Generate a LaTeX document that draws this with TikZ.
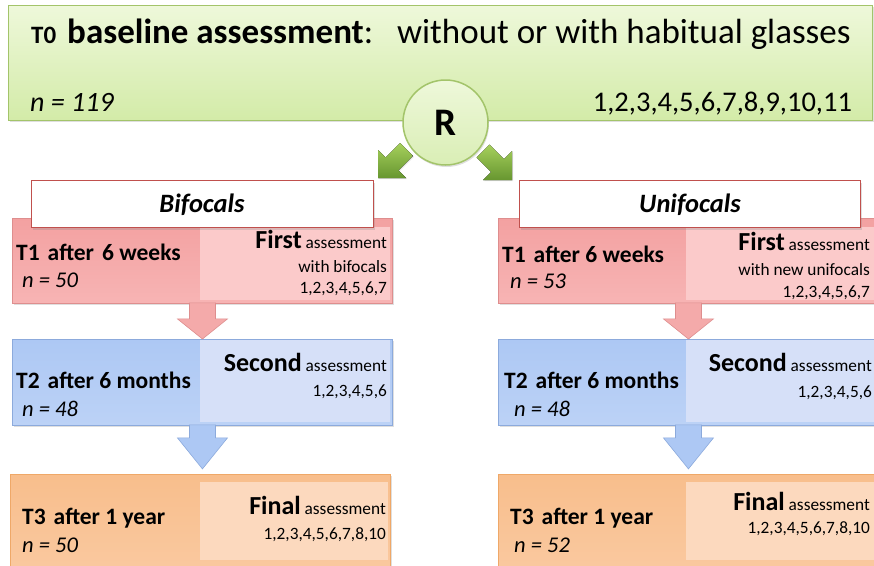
\documentclass[tikz,border=0pt]{standalone}
\usepackage{fontspec}
\setmainfont{Carlito}
\usetikzlibrary{calc,shadows}

\definecolor{grnfillA}{HTML}{EEF8DA}
\definecolor{grnfillB}{HTML}{D3EBA8}
\definecolor{grnline}{HTML}{A3C46A}
\definecolor{grnarrA}{HTML}{A6D05C}
\definecolor{grnarrB}{HTML}{679630}
\definecolor{redA}{HTML}{F3A1A1}
\definecolor{redB}{HTML}{F7B4B4}
\definecolor{redlight}{HTML}{FBCACA}
\definecolor{redline}{HTML}{DE8E8E}
\definecolor{hdrline}{HTML}{C0504D}
\definecolor{bluA}{HTML}{ADC8F4}
\definecolor{bluB}{HTML}{BCD2F6}
\definecolor{blulight}{HTML}{D6E0F8}
\definecolor{bluline}{HTML}{8CAADC}
\definecolor{orgA}{HTML}{F8BE8C}
\definecolor{orgB}{HTML}{FAC9A0}
\definecolor{orglight}{HTML}{FCD9BE}
\definecolor{orgline}{HTML}{EFA868}

\newcommand{\bigword}[1]{{\fontsize{26}{27}\selectfont\bfseries #1}}

\begin{document}
\begin{tikzpicture}[x=1pt,y=-1pt,
  box/.style={draw,line width=0.9pt,inner sep=0pt,anchor=north west,
    drop shadow={shadow xshift=1.5pt,shadow yshift=-2pt,opacity=0.25}},
  redbox/.style={box,draw=redline,top color=redA,bottom color=redB},
  blubox/.style={box,draw=bluline,top color=bluA,bottom color=bluB},
  orgbox/.style={box,draw=orgline,top color=orgA,bottom color=orgB},
  sub/.style={inner sep=0pt,anchor=north west,draw=none},
  hdr/.style={box,draw=hdrline,fill=white,line width=1pt},
  stime/.style={font=\fontsize{23.5}{25}\selectfont\bfseries,anchor=base west,inner sep=0pt},
  scount/.style={font=\fontsize{22.5}{24}\selectfont\itshape,anchor=base west,inner sep=0pt},
  sright/.style={anchor=base east,inner sep=0pt,font=\fontsize{17.3}{19}\selectfont},
  redarrow/.style={fill=redA!90!white,draw=redline,line width=0.6pt},
  bluarrow/.style={fill=bluA,draw=bluline,line width=0.6pt},
  grnarrow/.style={top color=grnarrA,bottom color=grnarrB,draw=none,
    drop shadow={shadow xshift=1pt,shadow yshift=-1pt,opacity=0.2}}
]
\useasboundingbox (0,0) rectangle (874,565);
\clip (0,0) rectangle (874,565);

% baseline box
\node[box,draw=grnline,top color=grnfillA,bottom color=grnfillB,
  minimum width=864,minimum height=115] (t0) at (8,5) {};
\node[anchor=base west,inner sep=0pt,font=\fontsize{35}{37}\selectfont] (t0title) at (31,43)
  {{\fontsize{25}{26}\selectfont\bfseries T0}\hspace{11pt}\textbf{baseline assessment}:\hspace{24pt}without or with habitual glasses};
\node[anchor=base west,inner sep=0pt,font=\fontsize{28}{30}\selectfont\itshape] (t0n) at (30,111) {n = 119};
\node[anchor=base east,inner sep=0pt,font=\fontsize{28.5}{30}\selectfont] (t0v) at (852,111) {1,2,3,4,5,6,7,8,9,10,11};

% randomisation arrows
\fill[grnarrow] (378,178) -- (378,150) -- (385.6,157.6) -- (400.1,143.1) -- (412.9,155.9) -- (398.4,170.4) -- (406,178) -- cycle;
\fill[grnarrow] (512,180) -- (512,151) -- (503.9,159.1) -- (489.4,144.6) -- (476.6,157.4) -- (491.1,171.9) -- (483,180) -- cycle;

% R circle
\node[circle,draw=grnline,line width=1.5pt,inner sep=0pt,minimum size=85,
  top color=grnfillA,bottom color=grnfillB!85!white,
  drop shadow={shadow xshift=1pt,shadow yshift=-2pt,opacity=0.25}] (r) at (445.5,122.5) {};
\node[font=\fontsize{39}{40}\selectfont\bfseries,anchor=base,inner sep=0pt] (rtxt) at (445.5,135) {R};

% ---------- column: bifocals ----------
\node[redbox,minimum width=380,minimum height=85] (t1L) at (12,218) {};
\node[sub,fill=redlight,minimum width=190,minimum height=73] (t1Ls) at (200,227) {};
\node[hdr,minimum width=342,minimum height=47] (hL) at (31,180) {};
\node[font=\fontsize{26.5}{28}\selectfont\bfseries\itshape,anchor=base,inner sep=0pt] (hLt) at (202,212) {Bifocals};
\node[stime] (t1La) at (16,260) {T1\hspace{8pt}after\hspace{8pt}6 weeks};
\node[scount] (t1Lb) at (22,287) {n = 50};
\node[sright] (t1Lc) at (387,248) {\bigword{First} assessment};
\node[sright] (t1Ld) at (387,272) {with bifocals};
\node[sright] (t1Le) at (387,293) {1,2,3,4,5,6,7};

\node[blubox,minimum width=380,minimum height=86] (t2L) at (12,339) {};
\node[sub,fill=blulight,minimum width=190,minimum height=82] (t2Ls) at (200,340) {};
\node[stime] (t2La) at (16,388) {T2\hspace{8pt}after 6 months};
\node[scount] (t2Lb) at (22,416) {n = 48};
\node[sright] (t2Lc) at (387,371) {\bigword{Second} assessment};
\node[sright] (t2Ld) at (387,396) {1,2,3,4,5,6};

\node[orgbox,minimum width=380,minimum height=100] (t3L) at (10,474) {};
\node[sub,fill=orglight,minimum width=188,minimum height=78] (t3Ls) at (200,482) {};
\node[stime] (t3La) at (22,524) {T3\hspace{8pt}after 1 year};
\node[scount] (t3Lb) at (22,552) {n = 50};
\node[sright] (t3Lc) at (386,514) {\bigword{Final} assessment};
\node[sright] (t3Ld) at (386,539) {1,2,3,4,5,6,7,8,10};

\draw[redarrow] ($(t1L.south)+(-13,-1)$) -- ($(t1L.south)+(13,-1)$) -- ($(t1L.south)+(13,15)$)
  -- ($(t1L.south)+(25,15)$) -- (t2L.north) -- ($(t1L.south)+(-25,15)$) -- ($(t1L.south)+(-13,15)$) -- cycle;
\draw[bluarrow] ($(t2L.south)+(-13,-1)$) -- ($(t2L.south)+(13,-1)$) -- ($(t2L.south)+(13,12)$)
  -- ($(t2L.south)+(25,12)$) -- ($(t2L.south)+(0,43)$) -- ($(t2L.south)+(-25,12)$) -- ($(t2L.south)+(-13,12)$) -- cycle;

% ---------- column: unifocals ----------
\node[redbox,minimum width=380,minimum height=85] (t1R) at (498,218) {};
\node[sub,fill=redlight,minimum width=190,minimum height=73] (t1Rs) at (686,227) {};
\node[hdr,minimum width=341,minimum height=47] (hR) at (519,180) {};
\node[font=\fontsize{26.5}{28}\selectfont\bfseries\itshape,anchor=base,inner sep=0pt] (hRt) at (690,212) {Unifocals};
\node[stime] (t1Ra) at (502,262) {T1\hspace{8pt}after 6 weeks};
\node[scount] (t1Rb) at (510,288) {n = 53};
\node[sright] (t1Rc) at (870,250) {\bigword{First} assessment};
\node[sright] (t1Rd) at (870,275) {with new unifocals};
\node[sright] (t1Re) at (870,297) {1,2,3,4,5,6,7};

\node[blubox,minimum width=380,minimum height=86] (t2R) at (498,339) {};
\node[sub,fill=blulight,minimum width=190,minimum height=82] (t2Rs) at (686,340) {};
\node[stime] (t2Ra) at (504,388) {T2\hspace{8pt}after 6 months};
\node[scount] (t2Rb) at (514,416) {n = 48};
\node[sright] (t2Rc) at (872,371) {\bigword{Second} assessment};
\node[sright] (t2Rd) at (872,397) {1,2,3,4,5,6};

\node[orgbox,minimum width=380,minimum height=100] (t3R) at (498,474) {};
\node[sub,fill=orglight,minimum width=190,minimum height=78] (t3Rs) at (686,482) {};
\node[stime] (t3Ra) at (510,524) {T3\hspace{8pt}after 1 year};
\node[scount] (t3Rb) at (514,552) {n = 52};
\node[sright] (t3Rc) at (870,510) {\bigword{Final} assessment};
\node[sright] (t3Rd) at (870,533) {1,2,3,4,5,6,7,8,10};

\draw[redarrow] ($(t1R.south)+(-13,-1)$) -- ($(t1R.south)+(13,-1)$) -- ($(t1R.south)+(13,15)$)
  -- ($(t1R.south)+(25,15)$) -- (t2R.north) -- ($(t1R.south)+(-25,15)$) -- ($(t1R.south)+(-13,15)$) -- cycle;
\draw[bluarrow] ($(t2R.south)+(-13,-1)$) -- ($(t2R.south)+(13,-1)$) -- ($(t2R.south)+(13,12)$)
  -- ($(t2R.south)+(25,12)$) -- ($(t2R.south)+(0,43)$) -- ($(t2R.south)+(-25,12)$) -- ($(t2R.south)+(-13,12)$) -- cycle;
\end{tikzpicture}
\end{document}
